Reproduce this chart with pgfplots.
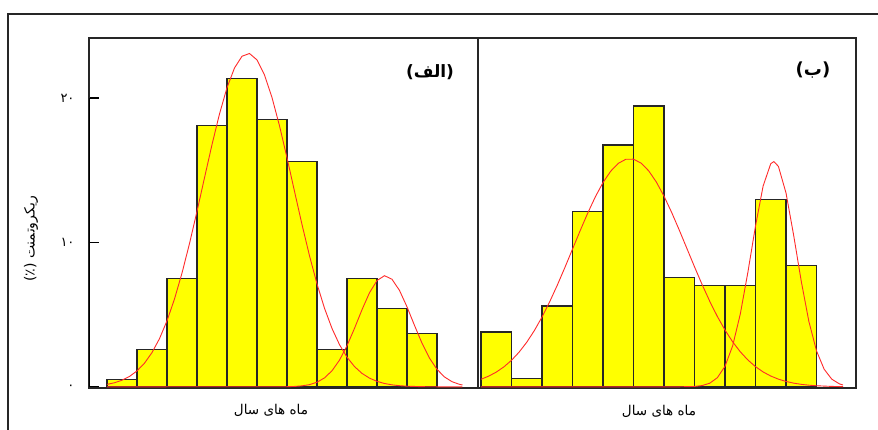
\documentclass[border=0pt]{standalone}
\usepackage{pgfplots}
\pgfplotsset{compat=1.18}
\usepackage{fontspec}
\newfontfamily\arabicfont[Script=Arabic]{DejaVu Sans}
\newfontfamily\parenfont{DejaVu Sans}
\TeXXeTstate=1
\definecolor{baryellow}{HTML}{FFFF00}
\definecolor{fitred}{HTML}{FF2A2A}
\definecolor{edge}{HTML}{262626}

\begin{document}
\begin{tikzpicture}[x=1pt,y=1pt]
\useasboundingbox (0,0) rectangle (878,429);
% outer frame (cut by the picture edges)
\draw[line width=1.4pt, black!85] (8,-5) -- (8,415) -- (890,415);

\pgfplotsset{panel/.style={scale only axis, height=350pt, ymin=-0.08, ymax=24.16,
  xtick=\empty, axis line style={line width=1.3pt, edge}},
  bars/.style={ybar interval, fill=baryellow, draw=edge, line width=1.2pt},
  fit/.style={fitred, line width=0.9pt, mark=none}}

% ---------------- panel (alef) ----------------
\begin{axis}[panel, at={(89pt,41pt)}, anchor=south west, width=389pt,
  xmin=-0.6, xmax=12.367,
  ytick={0,10,20}, yticklabels={۰,۱۰,۲۰}, ytick pos=left,
  tick align=inside, major tick length=10pt, tick style={line width=1.6pt, black},
  yticklabel style={font=\arabicfont\fontsize{13}{14}\selectfont, xshift=-11pt}]
\addplot[bars] coordinates {(0,0.5) (1,2.6) (2,7.5) (3,18.1) (4,21.35) (5,18.5) (6,15.6) (7,2.6) (8,7.5) (9,5.4) (10,3.7) (11,3.7)};
\addplot[fit] coordinates {(0,0.170) (0.25,0.283) (0.5,0.458) (0.75,0.721) (1,1.103) (1.25,1.640) (1.5,2.373) (1.75,3.339) (2,4.571) (2.25,6.086) (2.5,7.879) (2.75,9.923) (3,12.153) (3.25,14.478) (3.5,16.774) (3.75,18.902) (4,20.717) (4.25,22.084) (4.5,22.896) (4.75,23.087) (5,22.643) (5.25,21.598) (5.5,20.038) (5.75,18.080) (6,15.867) (6.25,13.544) (6.5,11.244) (6.75,9.079) (7,7.129) (7.25,5.446) (7.5,4.046) (7.75,2.923) (8,2.054) (8.25,1.404) (8.5,0.933) (8.75,0.603) (9,0.380) (9.25,0.232) (9.5,0.138) (9.75,0.080) (10,0.045) (10.5,0.012) (11,0.003) (11.85,0)};
\addplot[fit] coordinates {(0,0) (6,0.01) (6.25,0.028) (6.5,0.068) (6.75,0.153) (7,0.320) (7.25,0.620) (7.5,1.113) (7.75,1.850) (8,2.845) (8.25,4.051) (8.5,5.340) (8.75,6.517) (9,7.361) (9.25,7.699) (9.5,7.453) (9.75,6.679) (10,5.542) (10.25,4.257) (10.5,3.026) (10.75,1.992) (11,1.214) (11.25,0.685) (11.5,0.358) (11.75,0.173) (11.85,0.127)};
\draw[line width=2.2pt, black] (axis cs:-0.6,0) -- (axis cs:-0.6,20);
\end{axis}

% ---------------- panel (be) ----------------
\begin{axis}[panel, at={(478pt,41pt)}, anchor=south west, width=378pt,
  xmin=-0.098, xmax=12.295, ytick=\empty]
\addplot[bars] coordinates {(0,3.8) (1,0.6) (2,5.6) (3,12.15) (4,16.75) (5,19.45) (6,7.55) (7,7.0) (8,7.0) (9,13.0) (10,8.4) (11,8.4)};
\addplot[fit] coordinates {(0,0.526) (0.25,0.739) (0.5,1.020) (0.75,1.382) (1,1.839) (1.25,2.405) (1.5,3.090) (1.75,3.898) (2,4.831) (2.25,5.882) (2.5,7.034) (2.75,8.264) (3,9.537) (3.25,10.809) (3.5,12.036) (3.75,13.166) (4,14.146) (4.25,14.929) (4.5,15.477) (4.75,15.762) (5,15.767) (5.25,15.494) (5.5,14.956) (5.75,14.181) (6,13.208) (6.25,12.084) (6.5,10.860) (6.75,9.587) (7,8.314) (7.25,7.082) (7.5,5.926) (7.75,4.871) (8,3.933) (8.25,3.119) (8.5,2.430) (8.75,1.860) (9,1.398) (9.25,1.033) (9.5,0.749) (9.75,0.534) (10,0.373) (10.25,0.257) (10.5,0.173) (10.75,0.115) (11,0.075) (11.5,0.030) (11.87,0.015)};
\addplot[fit] coordinates {(0,0) (6.5,0.002) (7,0.028) (7.25,0.089) (7.5,0.252) (7.75,0.635) (8,1.422) (8.25,2.836) (8.5,5.029) (8.75,7.936) (9,11.140) (9.25,13.911) (9.5,15.455) (9.6,15.6) (9.75,15.275) (10,13.431) (10.25,10.507) (10.5,7.312) (10.75,4.527) (11,2.494) (11.25,1.222) (11.5,0.533) (11.75,0.207) (11.87,0.126)};
\end{axis}

% ---------------- texts ----------------
\node[font=\bfseries\fontsize{17}{20}\selectfont, inner sep=0pt] at (430,356.5) {{\parenfont\bfseries (}{\arabicfont\bfseries\beginR الف\endR}{\parenfont\bfseries )}};
\node[font=\bfseries\fontsize{18}{21}\selectfont, inner sep=0pt] at (813,359) {{\parenfont\bfseries (}{\arabicfont\bfseries\beginR ب\endR}{\parenfont\bfseries )}};
\node[font=\arabicfont\fontsize{13.5}{15}\selectfont] at (271,19) {\beginR ماه های سال\endR};
\node[font=\arabicfont\fontsize{13.5}{15}\selectfont] at (659,18) {\beginR ماه های سال\endR};
\node[font=\arabicfont\fontsize{14}{16}\selectfont, rotate=90] at (31,190) {(٪) \beginR ریکروتمنت\endR};
\end{tikzpicture}
\end{document}
